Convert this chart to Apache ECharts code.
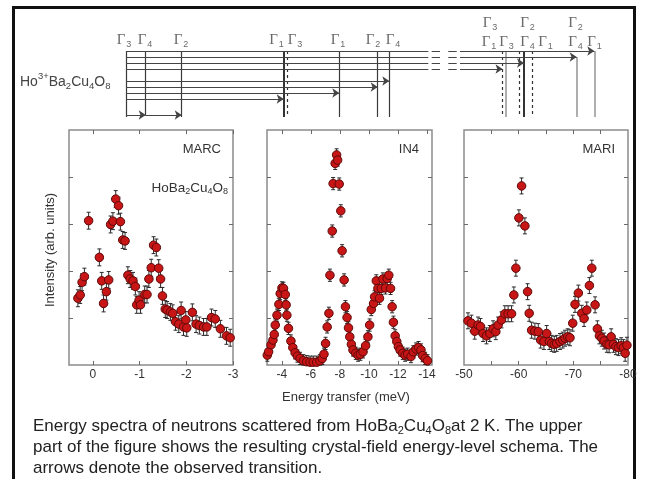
<!DOCTYPE html>
<html><head><meta charset="utf-8">
<script src="https://cdn.jsdelivr.net/npm/echarts@6/dist/echarts.min.js"></script>
<style>html,body{margin:0;padding:0;background:#fff}#c{width:646px;height:479px}</style>
</head><body><div id="c"></div>
<script>
// ---------- spectra (energy transfer meV, intensity arb. units) ----------
const marcE = [0.32,0.27,0.23,0.18,0.09,-0.14,-0.19,-0.23,-0.29,-0.34,-0.38,-0.43,-0.49,-0.55,-0.59,-0.64,-0.69,-0.75,-0.80,-0.86,-0.91,-0.94,-0.99,-1.02,-1.11,-1.16,-1.20,-1.25,-1.30,-1.36,-1.41,-1.45,-1.49,-1.55,-1.59,-1.66,-1.71,-1.77,-1.84,-1.89,-1.94,-1.99,-2.01,-2.13,-2.21,-2.28,-2.37,-2.44,-2.54,-2.62,-2.73,-2.86,-2.94];
const marcI = [1.42,1.49,1.76,1.88,3.07,2.29,1.79,1.31,1.56,1.81,2.99,3.06,3.53,3.39,3.05,2.66,2.64,1.91,1.83,1.79,1.67,1.28,1.38,1.28,1.50,1.50,1.83,2.07,2.55,2.50,2.06,1.83,1.47,1.19,1.17,1.13,1.10,0.92,0.87,1.16,0.81,0.96,0.79,1.12,0.87,0.84,0.81,0.81,1.01,0.98,0.77,0.62,0.58];
const in4E = [-2.99,-3.08,-3.25,-3.38,-3.47,-3.54,-3.66,-3.79,-3.88,-4.00,-4.11,-4.23,-4.29,-4.34,-4.45,-4.62,-4.75,-4.91,-5.07,-5.25,-5.48,-5.71,-5.94,-6.16,-6.40,-6.62,-6.78,-6.90,-7.01,-7.12,-7.24,-7.31,-7.47,-7.53,-7.67,-7.77,-7.84,-7.95,-8.06,-8.15,-8.29,-8.38,-8.49,-8.59,-8.68,-8.79,-8.90,-9.09,-9.25,-9.41,-9.59,-9.77,-9.93,-10.05,-10.16,-10.32,-10.39,-10.51,-10.62,-10.73,-10.85,-10.96,-11.14,-11.26,-11.37,-11.49,-11.60,-11.69,-11.81,-11.92,-12.03,-12.15,-12.33,-12.49,-12.67,-12.90,-13.06,-13.25,-13.42,-13.59,-13.70,-13.88,-14.04];
const in4I = [0.21,0.28,0.43,0.53,0.65,0.85,1.06,1.29,1.52,1.64,1.63,1.50,1.28,1.06,0.78,0.51,0.37,0.26,0.19,0.14,0.09,0.07,0.06,0.06,0.06,0.09,0.14,0.23,0.46,0.81,1.10,1.91,2.85,3.86,4.29,4.47,4.36,3.85,3.28,2.43,1.81,1.24,1.01,0.79,0.60,0.44,0.32,0.25,0.21,0.23,0.28,0.41,0.60,0.85,1.18,1.31,1.45,1.79,1.63,1.42,1.63,1.83,1.64,1.84,1.91,1.63,1.24,0.91,0.62,0.50,0.39,0.32,0.25,0.21,0.23,0.18,0.28,0.34,0.37,0.32,0.20,0.14,0.09];
const mariE = [-50.73,-51.36,-51.96,-52.57,-53.01,-53.49,-54.11,-54.72,-55.32,-55.82,-56.24,-56.86,-57.47,-58.07,-58.70,-59.12,-59.49,-60.04,-60.53,-61.14,-61.63,-61.93,-62.37,-62.97,-63.58,-64.02,-64.62,-65.12,-65.60,-66.04,-66.51,-66.95,-67.56,-68.06,-68.48,-68.97,-69.39,-69.89,-70.31,-70.92,-71.54,-71.96,-72.46,-72.94,-73.38,-73.98,-74.40,-74.77,-75.21,-75.63,-76.13,-76.55,-76.92,-77.34,-77.78,-78.26,-78.75,-79.17,-79.48,-79.80];
const mariI = [0.94,0.89,0.72,0.85,0.82,0.67,0.62,0.67,0.77,0.71,0.85,0.96,1.09,1.09,1.09,1.49,2.06,3.13,3.81,2.96,1.56,1.10,0.74,0.72,0.71,0.53,0.50,0.67,0.50,0.46,0.44,0.46,0.50,0.53,0.57,0.60,0.58,0.89,1.29,1.53,1.10,0.99,1.17,1.69,2.06,1.28,0.77,0.62,0.57,0.51,0.44,0.43,0.60,0.44,0.39,0.37,0.41,0.37,0.25,0.42];
const marcErr = 0.18, in4Err = 0.13, mariErr = 0.17;

// ---------- axis ticks / labels ----------
const marcTicks = [0, -1, -2, -3];
const in4Ticks = [-4, -6, -8, -10, -12, -14];
const mariLabels = [-50, -60, -70, -80];
const mariTicks = [-55, -60, -65, -70, -75];
const intensityTicks = [1, 2, 3, 4];

// ---------- level scheme (schematic position, row) ----------
const levelPos  = [10, 29.7, 65.7, 167.7, 171, 223.3, 261.7, 273.3, 386.5, 389.3, 403.3, 408, 416.3, 460.7, 478.3];
const levelKind = ['solid','solid','solid','bold','dashed','solid','solid','solid','dashed','gray','dashed','bold','dashed','gray','gray'];
const levelTopRow = [0,0,0,0,0,0,0,0,0,0,0,0,0,1,0];
const levelBottomRow = [11,10.67,11,11,11,11,11,11,11,11,11,11,11,11,11];
const transRow  = [0, 1, 2, 3, 5, 6, 7, 8, 10.67, 10.67];
const transFrom = [10, 10, 10, 10, 10, 10, 10, 10, 10, 29.7];
const transTo   = [478.3, 460.7, 408, 386.5, 273.3, 261.7, 223.3, 167.7, 29.7, 65.7];
const schemeBreak = [312.3, 344];
const breakMarks = [[315.7, 324], [332.3, 340.7]];
const gammaSub = ['3','4','2','1','3','1','2','4','1','3','4','1','4','1','3','2','2'];
const gammaPos = [8, 29, 65, 160.5, 179, 222, 257, 277, 373, 390.5, 411.5, 429.5, 459.5, 478.5, 374, 411.5, 459.5];
const gammaRow = [-1.83,-1.83,-1.83,-1.83,-1.83,-1.83,-1.83,-1.83,-1.5,-1.5,-1.5,-1.5,-1.5,-1.5,-4.67,-4.67,-4.67];

// ---------- build ----------
const FONT = 'Liberation Sans';
const zip = (a, b) => a.map((v, i) => [v, b[i]]);
const frame = '#8c8c8c';
const tickStyle = { color: '#6a6a6a', width: 1 };

const panels = [
  { left: 69, width: 164, min: -3, max: 0.51, labels: marcTicks, ticks: marcTicks, E: marcE, I: marcI, err: marcErr },
  { left: 267, width: 165, min: -14.35, max: -2.97, labels: in4Ticks, ticks: in4Ticks, E: in4E, I: in4I, err: in4Err },
  { left: 464, width: 164, min: -80, max: -50, labels: mariLabels, ticks: mariTicks, E: mariE, I: mariI, err: mariErr }
];

const grid = [], xAxis = [], yAxis = [], series = [];
panels.forEach((p, k) => {
  grid.push({ left: p.left, top: 130, width: p.width, height: 235, show: true, borderColor: frame, borderWidth: 1.5, backgroundColor: '#fff' });
  ['bottom', 'top'].forEach(pos => {
    xAxis.push({
      gridIndex: k, type: 'value', position: pos, min: p.min, max: p.max, inverse: true,
      axisLine: { show: false, onZero: false }, splitLine: { show: false },
      axisTick: { show: true, inside: true, length: 4, lineStyle: tickStyle, customValues: p.ticks },
      axisLabel: { show: pos === 'bottom', margin: 4, color: '#333', fontFamily: FONT, fontSize: 12, customValues: p.labels }
    });
  });
  ['left', 'right'].forEach(pos => {
    yAxis.push({
      gridIndex: k, type: 'value', position: pos, min: 0, max: 5,
      axisLine: { show: false, onZero: false }, splitLine: { show: false }, axisLabel: { show: false },
      axisTick: { show: true, inside: true, length: 4, lineStyle: tickStyle, customValues: intensityTicks }
    });
  });
  const data = zip(p.E, p.I);
  const err = p.err;
  series.push({
    type: 'custom', xAxisIndex: 2 * k, yAxisIndex: 2 * k, silent: true, z: 2,
    data: data,
    renderItem: (params, api) => {
      const x = api.value(0), y = api.value(1);
      const a = api.coord([x, y + err]), b = api.coord([x, Math.max(y - err, 0)]);
      const st = { stroke: '#2a2a2a', lineWidth: 1 };
      return { type: 'group', children: [
        { type: 'line', shape: { x1: a[0], y1: a[1], x2: b[0], y2: b[1] }, style: st },
        { type: 'line', shape: { x1: a[0] - 2, y1: a[1], x2: a[0] + 2, y2: a[1] }, style: st },
        { type: 'line', shape: { x1: b[0] - 2, y1: b[1], x2: b[0] + 2, y2: b[1] }, style: st }
      ]};
    }
  });
  series.push({
    type: 'scatter', xAxisIndex: 2 * k, yAxisIndex: 2 * k, data: data, clip: false, z: 3,
    symbol: 'circle', symbolSize: 8.5,
    itemStyle: { color: '#c81616', borderColor: '#5e0808', borderWidth: 1, opacity: 1 }
  });
});

// scheme grid
grid.push({ left: 116, top: 15, width: 500, height: 108, show: false });
xAxis.push({ gridIndex: 3, type: 'value', min: 0, max: 500, show: false });
yAxis.push({ gridIndex: 3, type: 'value', min: -6, max: 12, inverse: true, show: false });

const kindStyle = {
  solid: { color: '#3a3a3a', width: 1.2, type: 'solid' },
  bold: { color: '#333', width: 2, type: 'solid' },
  gray: { color: '#9a9a9a', width: 1.6, type: 'solid' },
  dashed: { color: '#333', width: 1.2, type: [3, 3] }
};
const levelData = levelPos.map((x, i) => ({
  coords: [[x, levelTopRow[i]], [x, levelBottomRow[i]]],
  lineStyle: kindStyle[levelKind[i]]
}));
const plainSegs = [], arrowSegs = [];
transRow.forEach((r, i) => {
  if (transTo[i] > schemeBreak[1]) {
    plainSegs.push({ coords: [[transFrom[i], r], [schemeBreak[0], r]] });
    breakMarks.forEach(m => plainSegs.push({ coords: [[m[0], r], [m[1], r]] }));
    arrowSegs.push({ coords: [[schemeBreak[1], r], [transTo[i], r]] });
  } else {
    arrowSegs.push({ coords: [[transFrom[i], r], [transTo[i], r]] });
  }
});
const lineBase = { type: 'lines', coordinateSystem: 'cartesian2d', xAxisIndex: 6, yAxisIndex: 6, silent: true, polyline: false, animation: false };
series.push(Object.assign({}, lineBase, { data: levelData, symbol: 'none', lineStyle: { opacity: 1 } }));
series.push(Object.assign({}, lineBase, { data: plainSegs, symbol: 'none', lineStyle: { color: '#444', width: 1.1, opacity: 1 } }));
series.push(Object.assign({}, lineBase, { data: arrowSegs, symbol: ['none', 'arrow'], symbolSize: [0, 7], lineStyle: { color: '#444', width: 1.1, opacity: 1 } }));
series.push({
  type: 'scatter', xAxisIndex: 6, yAxisIndex: 6, silent: true, symbolSize: 1,
  itemStyle: { color: 'rgba(0,0,0,0)' },
  data: gammaPos.map((x, i) => [x, gammaRow[i], gammaSub[i]]),
  label: {
    show: true, position: 'inside',
    formatter: p => '{g|Γ}{s|' + p.value[2] + '}',
    rich: {
      g: { fontFamily: 'Liberation Serif', fontSize: 15, color: '#444' },
      s: { fontFamily: FONT, fontSize: 9, color: '#444', padding: [9, 0, 0, 1] }
    }
  }
});

const txt = (x, y, text, extra) => ({ type: 'text', x, y, silent: true, style: Object.assign({ text, fill: '#333', font: '13px ' + FONT, align: 'left', verticalAlign: 'middle' }, extra || {}) });

const option = {
  animation: false,
  backgroundColor: '#fff',
  grid, xAxis, yAxis, series,
  graphic: [
    { type: 'rect', silent: true, shape: { x: 13.5, y: 7.5, width: 621, height: 500 }, style: { fill: 'none', stroke: '#111', lineWidth: 3 } },
    txt(221, 149, 'MARC', { align: 'right' }),
    txt(419, 149, 'IN4', { align: 'right' }),
    txt(615, 149, 'MARI', { align: 'right' }),
    txt(228, 188, 'HoBa{s|2}Cu{s|4}O{s|8}', { align: 'right', font: '13.5px ' + FONT, rich: { s: { fontSize: 9, fontFamily: FONT, fill: '#333', padding: [8, 0, 0, 0] } } }),
    { type: 'text', x: 50, y: 250, rotation: Math.PI / 2, silent: true, style: { text: 'Intensity (arb. units)', fill: '#333', font: '13px ' + FONT, align: 'center', verticalAlign: 'middle' } },
    txt(346, 397, 'Energy transfer (meV)', { align: 'center' }),
    txt(20, 82, 'Ho{p|3+}Ba{s|2}Cu{s|4}O{s|8}', { font: '14px ' + FONT, fill: '#444', rich: { p: { fontSize: 9.5, fill: '#444', fontFamily: FONT, padding: [0, 0, 11, 0] }, s: { fontSize: 9.5, fill: '#444', fontFamily: FONT, padding: [9, 0, 0, 0] } } }),
    { type: 'text', x: 33, y: 415.5, silent: true, style: {
      text: 'Energy spectra of neutrons scattered from HoBa{s|2}Cu{s|4}O{s|8}at 2 K. The upper\npart of the figure shows the resulting crystal-field energy-level schema. The\narrows denote the observed transition.',
      fill: '#222', font: '17px ' + FONT, lineHeight: 21, verticalAlign: 'top', align: 'left',
      rich: { s: { fontSize: 11, fill: '#222', fontFamily: FONT, padding: [10, 0, 0, 0], lineHeight: 21 } }
    } }
  ]
};
echarts.init(document.getElementById('c'), null, { renderer: 'canvas' }).setOption(option);
</script></body></html>
